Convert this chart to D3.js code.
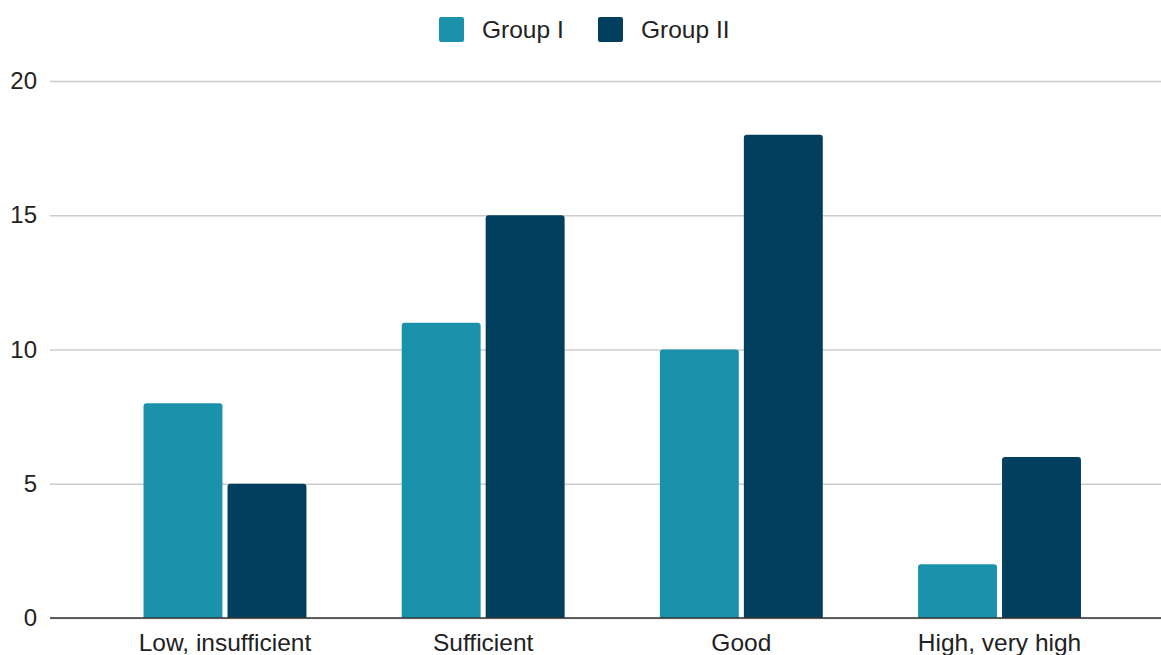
<!DOCTYPE html>
<html lang="en">
<head>
  <meta charset="utf-8">
  <title>Group I vs Group II</title>
  <style>
    body { margin:0; background:#fff; }
    svg  { display:block; }
    text { font-family: "Liberation Sans", Arial, sans-serif; fill:#222; }
  </style>
</head>
<body>
<script src="https://d3js.org/d3.v7.min.js"></script>
<script>

// data
const categories = ["Low, insufficient", "Sufficient", "Good", "High, very high"];
const seriesNames = ["Group I", "Group II"];
const groupOne = [8, 11, 10, 2];
const groupTwo = [5, 15, 18, 6];
const yTicks = [0, 5, 10, 15, 20];
const colors = ["#1b92ac", "#023f5f"];

const width = 1161, height = 655;

const svg = d3.select("body").append("svg")
  .attr("width", width)
  .attr("height", height);

// scales
const x = d3.scaleBand()
  .domain(categories)
  .range([95.9, 1128.6])
  .paddingInner(0.369)
  .paddingOuter(0.1845);

const xInner = d3.scaleBand()
  .domain(seriesNames)
  .range([0, x.bandwidth()])
  .paddingInner(0.06);

const y = d3.scaleLinear()
  .domain([0, 20])
  .range([618, 81]);

// gridlines + y labels
const yAxis = d3.axisLeft(y)
  .tickValues(yTicks)
  .tickSize(-(width - 50))
  .tickPadding(13)
  .tickFormat(d3.format("d"));

const gy = svg.append("g")
  .attr("transform", "translate(50,0)")
  .call(yAxis);
gy.select(".domain").remove();
gy.selectAll(".tick line")
  .attr("stroke", "#cccccc")
  .attr("stroke-width", 1.5);
gy.selectAll(".tick text")
  .style("font-size", "24px")
  .attr("fill", "#222");

// bars
const rows = categories.map((c, i) => ({ cat: c, values: [groupOne[i], groupTwo[i]] }));

const groups = svg.append("g")
  .selectAll("g")
  .data(rows)
  .join("g")
    .attr("transform", d => `translate(${x(d.cat)},0)`);

groups.selectAll("path")
  .data(d => d.values.map((v, i) => ({ name: seriesNames[i], value: v, i })))
  .join("path")
    .attr("fill", d => colors[d.i])
    .attr("d", d => {
      const x0 = xInner(d.name), w = xInner.bandwidth();
      const top = y(d.value), bot = y(0), r = 3;
      return `M${x0},${bot}V${top + r}Q${x0},${top} ${x0 + r},${top}H${x0 + w - r}Q${x0 + w},${top} ${x0 + w},${top + r}V${bot}Z`;
    });

// baseline
svg.append("line")
  .attr("x1", 50).attr("x2", width)
  .attr("y1", y(0)).attr("y2", y(0))
  .attr("stroke", "#333")
  .attr("stroke-width", 1.5);

// x labels
const xAxis = d3.axisBottom(x).tickSize(0).tickPadding(16);
const gx = svg.append("g")
  .attr("transform", `translate(0,${y(0)})`)
  .call(xAxis);
gx.select(".domain").remove();
gx.selectAll(".tick text")
  .style("font-size", "24.5px")
  .attr("fill", "#222");

// legend
const legendX = [439, 598];
const legend = svg.append("g")
  .selectAll("g")
  .data(seriesNames)
  .join("g")
    .attr("transform", (d, i) => `translate(${legendX[i]},17)`);

legend.append("rect")
  .attr("width", 25)
  .attr("height", 25)
  .attr("rx", 2)
  .attr("fill", (d, i) => colors[i]);

legend.append("text")
  .attr("x", 43)
  .attr("y", 12.5)
  .attr("dy", "0.35em")
  .style("font-size", "24.5px")
  .text(d => d);

</script>
</body>
</html>
